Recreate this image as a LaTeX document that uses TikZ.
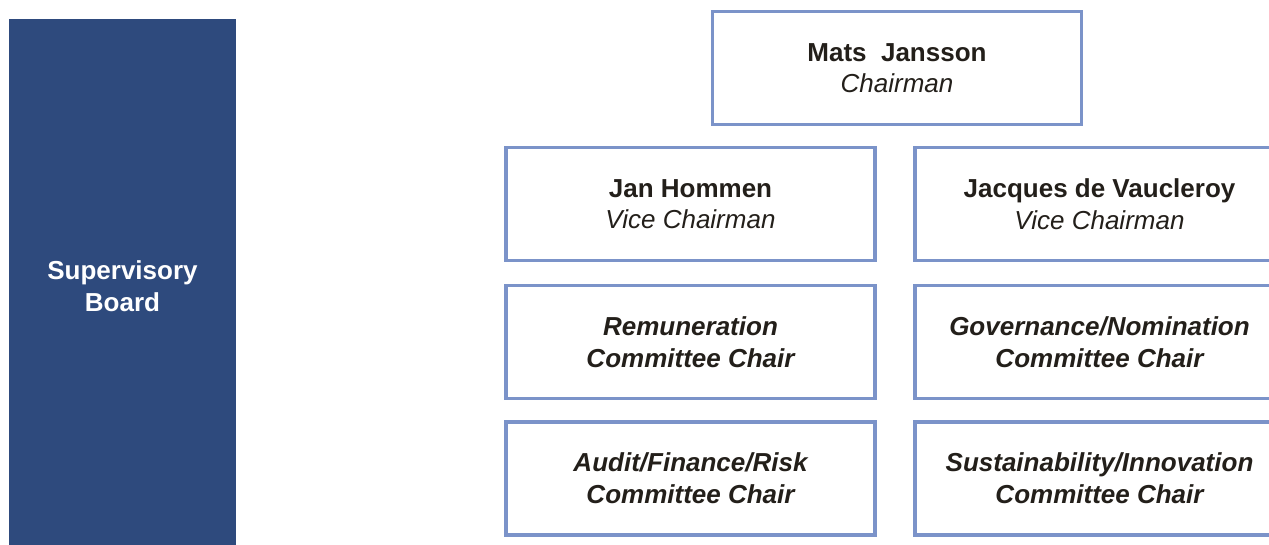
\documentclass[tikz,border=0pt]{standalone}
\usepackage{fontspec}
\setmainfont{Liberation Sans}
\definecolor{boardblue}{HTML}{2E4A7D}
\definecolor{frameblue}{HTML}{7B93C9}
\definecolor{inktext}{HTML}{231F1A}
\begin{document}
\begin{tikzpicture}[x=1pt,y=-1pt,
  member/.style={draw=frameblue, line width=3.3pt, fill=white,
    minimum width=369pt, minimum height=113pt, inner sep=0pt, outer sep=0pt,
    align=center, text=inktext, font=\fontsize{26}{31.6}\selectfont},
  panel/.style={fill=boardblue, minimum width=227pt, minimum height=534pt,
    inner sep=0pt, outer sep=0pt, align=center, text=white,
    font=\fontsize{26}{31.6}\selectfont\bfseries}]
  \useasboundingbox (0,0) rectangle (1269,545);
  \clip (0,0) rectangle (1269,545);

  % board panel on the left
  \node[panel] (board) at (122.5,286) {Supervisory\\Board};

  % chairman
  \node[member] (chair) at (897,68) {\textbf{Mats\ \ Jansson}\\\textit{Chairman}};

  % vice chairmen
  \node[member] (vice1) at (690.5,204) {\textbf{Jan Hommen}\\\textit{Vice Chairman}};
  \node[member] (vice2) at (1099.5,204) {\textbf{Jacques de Vaucleroy}\\\textit{Vice Chairman}};

  % committee chairs
  \node[member, font=\fontsize{26}{31.6}\selectfont\bfseries\itshape] (rem) at (690.5,342)
    {Remuneration\\Committee Chair};
  \node[member, font=\fontsize{26}{31.6}\selectfont\bfseries\itshape] (gov) at (1099.5,342)
    {Governance/Nomination\\Committee Chair};
  \node[member, font=\fontsize{26}{31.6}\selectfont\bfseries\itshape] (audit) at (690.5,478.5)
    {Audit/Finance/Risk\\Committee Chair};
  \node[member, font=\fontsize{26}{31.6}\selectfont\bfseries\itshape] (sust) at (1099.5,478.5)
    {Sustainability/Innovation\\Committee Chair};
\end{tikzpicture}
\end{document}
